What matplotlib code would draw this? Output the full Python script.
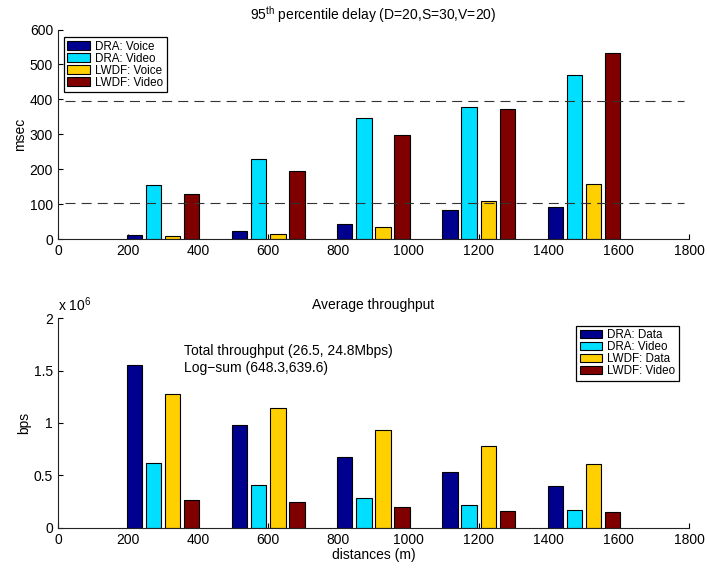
import numpy as np
import matplotlib
matplotlib.use('Agg')
import matplotlib.pyplot as plt
from matplotlib.ticker import FuncFormatter

plt.rcParams['font.family'] = ['Liberation Sans', 'DejaVu Sans']
plt.rcParams['mathtext.fontset'] = 'custom'
plt.rcParams['mathtext.rm'] = 'Liberation Sans'
plt.rcParams['mathtext.it'] = 'Liberation Sans:italic'

# distancias (centro de cada grupo de barras)
distances = [300, 600, 900, 1200, 1500]

# atraso percentil 95 (ms)
delay_dra_voice = [12, 24, 43, 83, 92]
delay_dra_video = [155, 229, 348, 378, 470]
delay_lwdf_voice = [9, 16, 34, 111, 157]
delay_lwdf_video = [130, 194, 297, 374, 534]
delay_limits = [396, 105]

# vazao media (bps)
thr_dra_data = [1.551e6, 0.978e6, 0.675e6, 0.529e6, 0.395e6]
thr_dra_video = [0.618e6, 0.405e6, 0.281e6, 0.214e6, 0.172e6]
thr_lwdf_data = [1.280e6, 1.140e6, 0.936e6, 0.783e6, 0.608e6]
thr_lwdf_video = [0.262e6, 0.245e6, 0.195e6, 0.162e6, 0.150e6]

cores = ['#00008F', '#00DFFF', '#FFCF00', '#800000']
fs = 10
fs_leg = 8.4

fig = plt.figure(figsize=(7.07, 5.69), dpi=100)
ax1 = fig.add_axes([0.082, 0.5794, 0.8925, 0.3687])
ax2 = fig.add_axes([0.082, 0.0726, 0.8925, 0.368])

x = np.array(distances)
passo = 54.5
larg = 0.8 * passo
offsets = np.array([-1.5, -0.5, 0.5, 1.5]) * passo


def barras(ax, series, labels):
    for off, vals, cor, lab in zip(offsets, series, cores, labels):
        ax.bar(x + off, vals, width=larg, color=cor, edgecolor='black',
               linewidth=0.8, label=lab, zorder=2)


def estilo(ax):
    for s in ['top', 'right']:
        ax.spines[s].set_visible(False)
    for s in ['left', 'bottom']:
        ax.spines[s].set_linewidth(0.8)
        ax.spines[s].set_color('#222222')
    ax.tick_params(direction='in', length=3.6, width=0.8, labelsize=fs,
                   top=False, right=False)
    ax.set_xlim(0, 1800)
    ax.set_xticks(np.arange(0, 1801, 200))


def legenda(ax, **kw):
    leg = ax.legend(borderaxespad=0, fontsize=fs_leg, fancybox=False,
                    edgecolor='black', framealpha=1, labelspacing=0.0,
                    handlelength=1.9, handleheight=0.7, handletextpad=0.45,
                    borderpad=0.3, **kw)
    leg.get_frame().set_linewidth(0.9)


# Grafico de atraso
barras(ax1, [delay_dra_voice, delay_dra_video, delay_lwdf_voice, delay_lwdf_video],
       ['DRA: Voice', 'DRA: Video', 'LWDF: Voice', 'LWDF: Video'])
for lim in delay_limits:
    ax1.plot([20, 1785], [lim, lim], color='#333333', linewidth=0.8,
             dashes=(9, 5.5), zorder=3)
estilo(ax1)
ax1.set_ylim(0, 600)
ax1.set_yticks(np.arange(0, 601, 100))
ax1.set_ylabel('msec', fontsize=fs, labelpad=2)
ax1.set_title(r'95$^{\rm th}$ percentile delay (D=20,S=30,V=20)', fontsize=fs, pad=7)
legenda(ax1, loc='upper left', bbox_to_anchor=(0.0095, 0.964))

# Grafico de vazao
barras(ax2, [thr_dra_data, thr_dra_video, thr_lwdf_data, thr_lwdf_video],
       ['DRA: Data', 'DRA: Video', 'LWDF: Data', 'LWDF: Video'])
estilo(ax2)
ax2.set_ylim(0, 2e6)
ax2.set_yticks([0, 0.5e6, 1e6, 1.5e6, 2e6])
ax2.yaxis.set_major_formatter(FuncFormatter(lambda v, p: '%g' % (v / 1e6)))
ax2.text(0.0, 1.02, r'x 10$^6$', transform=ax2.transAxes, fontsize=fs,
         ha='left', va='bottom')
ax2.set_ylabel('bps', fontsize=fs, labelpad=2)
ax2.set_xlabel('distances (m)', fontsize=fs, labelpad=1)
ax2.set_title('Average throughput', fontsize=fs, pad=7)
ax2.text(360, 1.69e6, 'Total throughput (26.5, 24.8Mbps)', fontsize=fs, va='center')
ax2.text(360, 1.53e6, u'Log\u2212sum (648.3,639.6)', fontsize=fs, va='center')
legenda(ax2, loc='upper right', bbox_to_anchor=(0.984, 0.965))

fig.savefig('out.png', dpi=100)
